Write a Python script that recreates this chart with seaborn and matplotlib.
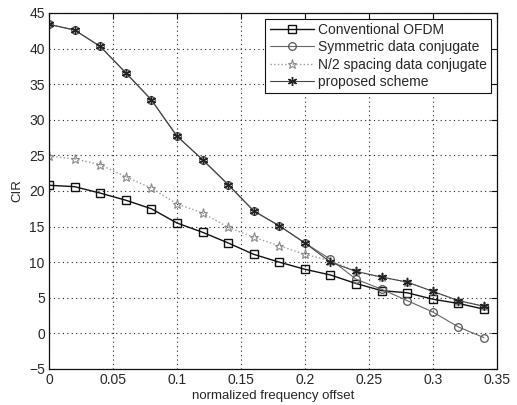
import numpy as np
import pandas as pd
import matplotlib
matplotlib.use("Agg")
import matplotlib.pyplot as plt
import seaborn as sns

offset = [0, 0.02, 0.04, 0.06, 0.08, 0.10, 0.12, 0.14, 0.16, 0.18, 0.20, 0.22, 0.24, 0.26, 0.28, 0.30, 0.32, 0.34]
conventional = [20.8, 20.6, 19.7, 18.7, 17.5, 15.5, 14.2, 12.7, 11.1, 10.0, 9.0, 8.2, 7.0, 6.0, 5.7, 4.8, 4.2, 3.4]
symmetric = [43.4, 42.6, 40.3, 36.6, 32.8, 27.7, 24.4, 20.9, 17.2, 15.1, 12.7, 10.4, 7.6, 6.2, 4.6, 3.0, 0.9, -0.6]
n2_spacing = [24.9, 24.5, 23.7, 22.0, 20.4, 18.2, 16.9, 14.9, 13.5, 12.3, 11.1, 10.2, 8.7, 7.9, 7.2, 5.9, 4.6, 3.8]
proposed = [43.4, 42.6, 40.3, 36.6, 32.8, 27.7, 24.4, 20.9, 17.2, 15.1, 12.7, 10.0, 8.7, 7.9, 7.2, 5.9, 4.6, 3.8]

labels = ["Conventional OFDM", "Symmetric data conjugate", "N/2 spacing data conjugate", "proposed scheme"]
x_ticks = [0, 0.05, 0.1, 0.15, 0.2, 0.25, 0.3, 0.35]
x_tick_labels = ["0", "0.05", "0.1", "0.15", "0.2", "0.25", "0.3", "0.35"]
y_ticks = [-5, 0, 5, 10, 15, 20, 25, 30, 35, 40, 45]

sns.set_style("white")
plt.rcParams['font.family'] = ['Liberation Sans', 'DejaVu Sans']

fig = plt.figure(figsize=(5.17, 4.05), dpi=100)
ax = fig.add_axes([0.0948, 0.089, 0.866, 0.879])

styles = [
    dict(color="#111111", ls="-", lw=1.0, marker="s", ms=6, mfc="none", mec="#111111", mew=1.0),
    dict(color="#666666", ls="-", lw=0.8, marker="o", ms=5.5, mfc="none", mec="#555555", mew=0.9),
    dict(color="#9a9a9a", ls=":", lw=1.0, marker="*", ms=6.5, mfc="none", mec="#8a8a8a", mew=0.8),
    dict(color="#444444", ls="-", lw=0.8, marker=(6, 2, 0), ms=6.5, mfc="none", mec="#222222", mew=1.0),
]
series = [conventional, symmetric, n2_spacing, proposed]
for vals, lab, st in zip(series, labels, styles):
    df = pd.DataFrame({"x": offset, "y": vals})
    sns.lineplot(data=df, x="x", y="y", ax=ax, label=lab, color=st["color"],
                 linestyle=st["ls"], linewidth=st["lw"], marker=st["marker"],
                 markersize=st["ms"], markerfacecolor=st["mfc"],
                 markeredgecolor=st["mec"], markeredgewidth=st["mew"])

ax.set_xlim(0, 0.35)
ax.set_ylim(-5, 45)
ax.set_xticks(x_ticks)
ax.set_xticklabels(x_tick_labels)
ax.set_yticks(y_ticks)
ax.grid(True, ls=(0, (1, 3)), color="#222222", lw=0.8)
ax.tick_params(direction="in", length=4, labelsize=10, top=True, right=True, color="#111111", pad=3)
for s in ax.spines.values():
    s.set_color("#111111")
    s.set_linewidth(0.9)
ax.set_xlabel("normalized frequency offset", fontsize=9.5, labelpad=2)
ax.set_ylabel("CIR", fontsize=9.5, labelpad=4)

leg = ax.legend(loc="upper right", fontsize=10, frameon=True, fancybox=False,
                edgecolor="#111111", framealpha=1, borderpad=0.3, labelspacing=0.25,
                handlelength=3.2, handletextpad=0.3, borderaxespad=0.4)
leg.get_frame().set_linewidth(0.8)

fig.savefig("out.png", dpi=100)
